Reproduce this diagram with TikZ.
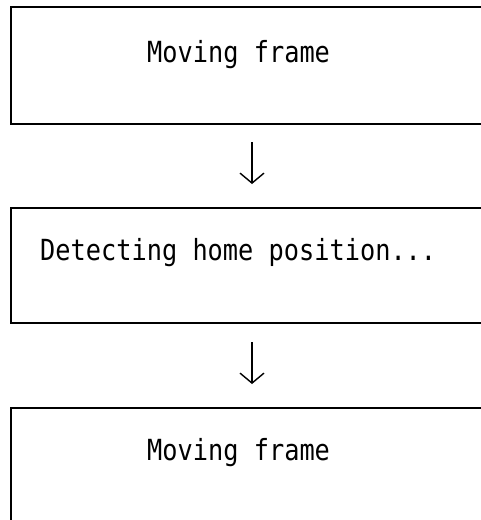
\documentclass[tikz,border=0pt]{standalone}
\usepackage{fontspec}
\usepackage{graphicx}
\setmonofont{DejaVu Sans Mono}
\usetikzlibrary{arrows.meta}
\tikzset{
  panel/.style={draw=black, line width=2pt, fill=white, rectangle, inner sep=0pt, anchor=north west, minimum width=520pt},
  label/.style={anchor=base west, inner sep=0pt, font=\fontsize{25.3}{30}\ttfamily},
  flow/.style={line width=1.4pt, -{Straight Barb[length=10pt, width=24pt, line width=1.4pt]}}
}
\newcommand{\tallt}[1]{\scalebox{1}[1.15]{#1}}
\begin{document}
\begin{tikzpicture}[x=1pt, y=-1pt]
  \clip (0,0) rectangle (481,520);
  \fill[white] (0,0) rectangle (481,520);
  \node[panel, minimum height=117pt] (box1) at (10,6) {};
  \node[panel, minimum height=115pt] (box2) at (10,207) {};
  \node[panel, minimum height=140pt] (box3) at (10,407) {};
  \node[label] (t1) at (147,62) {\tallt{Moving frame}};
  \node[label] (t2) at (40,260) {\tallt{Detecting home position...}};
  \node[label] (t3) at (147,460) {\tallt{Moving frame}};
  \coordinate (a1s) at (252,142);
  \coordinate (a1e) at (252,184);
  \coordinate (a2s) at (252,342);
  \coordinate (a2e) at (252,384);
  \draw[flow] (a1s) -- (a1e);
  \draw[flow] (a2s) -- (a2e);
\end{tikzpicture}
\end{document}
